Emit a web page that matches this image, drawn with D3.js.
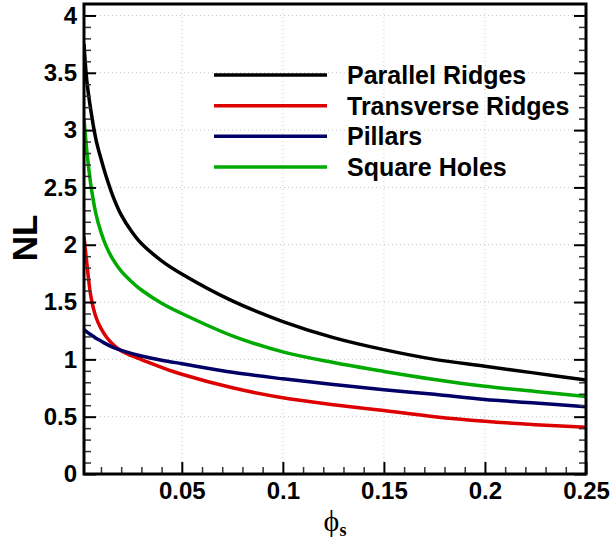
<!DOCTYPE html>
<html>
<head>
<meta charset="utf-8">
<script src="https://cdn.jsdelivr.net/npm/d3@7"></script>
<style>
  body { margin: 0; background: #fff; }
  svg { display: block; }
  text { font-family: "Liberation Sans", Arial, sans-serif; font-weight: bold; fill: #000; }
</style>
</head>
<body>
<div id="chart"></div>
<script>
// phi_s sample positions
const phiS = [0.0016, 0.003, 0.005, 0.0075, 0.01, 0.0125, 0.016, 0.02, 0.025, 0.03, 0.04, 0.05, 0.075, 0.1, 0.125, 0.15, 0.175, 0.2, 0.225, 0.25];

const parallelRidges   = [3.75, 3.43, 3.17, 2.92, 2.75, 2.60, 2.42, 2.26, 2.12, 2.01, 1.86, 1.745, 1.51, 1.33, 1.19, 1.085, 1.00, 0.94, 0.88, 0.82];
const transverseRidges = [2.07, 1.84, 1.55, 1.37, 1.27, 1.20, 1.13, 1.075, 1.032, 0.998, 0.93, 0.87, 0.752, 0.665, 0.605, 0.553, 0.50, 0.46, 0.43, 0.407];
const pillars          = [1.26, 1.24, 1.215, 1.185, 1.16, 1.135, 1.105, 1.078, 1.052, 1.03, 0.993, 0.962, 0.887, 0.83, 0.78, 0.735, 0.695, 0.65, 0.62, 0.587];
const squareHoles      = [3.10, 2.82, 2.52, 2.27, 2.11, 1.99, 1.87, 1.77, 1.68, 1.605, 1.49, 1.40, 1.205, 1.065, 0.972, 0.895, 0.825, 0.765, 0.72, 0.675];

const seriesNames = ['Parallel Ridges', 'Transverse Ridges', 'Pillars', 'Square Holes'];
const seriesValues = [parallelRidges, transverseRidges, pillars, squareHoles];
const seriesColors = ['#000000', '#dd0000', '#000066', '#00aa00'];

const xTicks = [0.05, 0.1, 0.15, 0.2, 0.25];
const yTicks = [0, 0.5, 1, 1.5, 2, 2.5, 3, 3.5, 4];

const width = 611, height = 546;
const margin = {top: 4, right: 25, bottom: 72, left: 84};

const svg = d3.select('#chart').append('svg')
  .attr('width', width)
  .attr('height', height);

const x = d3.scaleLinear()
  .domain([0.0016, 0.25])
  .range([margin.left, width - margin.right]);

const y = d3.scaleLinear()
  .domain([0, 4.1])
  .range([height - margin.bottom, margin.top]);

// dotted grid
const grid = svg.append('g').attr('class', 'grid');
grid.selectAll('.gx')
  .data(xTicks.slice(0, -1))
  .enter().append('line')
    .attr('x1', d => x(d)).attr('x2', d => x(d))
    .attr('y1', y.range()[0]).attr('y2', y.range()[1])
    .attr('stroke', '#c8c8c8').attr('stroke-width', 1).attr('stroke-dasharray', '1,3');
grid.selectAll('.gy')
  .data(yTicks.slice(1))
  .enter().append('line')
    .attr('x1', x.range()[0]).attr('x2', x.range()[1])
    .attr('y1', d => y(d)).attr('y2', d => y(d))
    .attr('stroke', '#c8c8c8').attr('stroke-width', 1).attr('stroke-dasharray', '1,3');

// curves
const line = d3.line()
  .x(d => x(d[0]))
  .y(d => y(d[1]))
  .curve(d3.curveCatmullRom.alpha(0.5));

svg.append('clipPath').attr('id', 'plotclip')
  .append('rect')
    .attr('x', x.range()[0]).attr('y', y.range()[1])
    .attr('width', x.range()[1] - x.range()[0])
    .attr('height', y.range()[0] - y.range()[1]);

svg.append('g').attr('clip-path', 'url(#plotclip)')
  .selectAll('path')
  .data(seriesValues)
  .enter().append('path')
    .attr('fill', 'none')
    .attr('stroke', (d, i) => seriesColors[i])
    .attr('stroke-width', 3.5)
    .attr('stroke-linejoin', 'round')
    .attr('d', d => line(d.map((v, i) => [phiS[i], v])));

// minor ticks
const minorX = d3.range(0.01, 0.25, 0.01).filter(v => Math.abs(v / 0.05 - Math.round(v / 0.05)) > 1e-6);
const minorY = d3.range(0.1, 4.1, 0.1).filter(v => Math.abs(v / 0.5 - Math.round(v / 0.5)) > 1e-6);

function styleAxis(g) {
  g.select('.domain').remove();
  g.selectAll('.tick line').attr('stroke', '#000').attr('stroke-width', 2);
}
function styleMinor(g) {
  styleAxis(g);
  g.selectAll('.tick line').attr('stroke', '#333').attr('stroke-width', 1.5);
}

svg.append('g')
  .attr('transform', 'translate(0,' + y.range()[0] + ')')
  .call(d3.axisBottom(x).tickValues(minorX).tickSize(-7).tickFormat(''))
  .call(styleMinor);

svg.append('g')
  .attr('transform', 'translate(' + x.range()[0] + ',0)')
  .call(d3.axisLeft(y).tickValues(minorY).tickSize(-7).tickFormat(''))
  .call(styleMinor);

svg.append('g')
  .attr('transform', 'translate(' + x.range()[1] + ',0)')
  .call(d3.axisRight(y).tickValues(minorY).tickSize(-7).tickFormat(''))
  .call(styleMinor);

// major ticks + labels
svg.append('g')
  .attr('transform', 'translate(0,' + y.range()[0] + ')')
  .call(d3.axisBottom(x).tickValues(xTicks).tickSize(-12).tickPadding(8).tickFormat(d3.format('')))
  .call(g => {
    styleAxis(g);
    g.selectAll('.tick text').style('font-size', '24px').attr('dy', '0.71em');
  });

svg.append('g')
  .attr('transform', 'translate(' + x.range()[0] + ',0)')
  .call(d3.axisLeft(y).tickValues(yTicks).tickSize(-12).tickPadding(7).tickFormat(d3.format('')))
  .call(g => {
    styleAxis(g);
    g.selectAll('.tick text').style('font-size', '24px');
  });

svg.append('g')
  .attr('transform', 'translate(' + x.range()[1] + ',0)')
  .call(d3.axisRight(y).tickValues(yTicks).tickSize(-12).tickFormat(''))
  .call(styleAxis);

// frame
svg.append('rect')
  .attr('x', x.range()[0]).attr('y', y.range()[1])
  .attr('width', x.range()[1] - x.range()[0])
  .attr('height', y.range()[0] - y.range()[1])
  .attr('fill', 'none').attr('stroke', '#000').attr('stroke-width', 3);

// axis titles
svg.append('text')
  .attr('transform', 'translate(37,238) rotate(-90)')
  .attr('text-anchor', 'middle')
  .style('font-size', '35px')
  .text('NL');

const xt = svg.append('text')
  .attr('x', (x.range()[0] + x.range()[1]) / 2)
  .attr('y', 531)
  .attr('text-anchor', 'middle');
xt.append('tspan')
  .style('font-family', '"Liberation Serif", "DejaVu Serif", serif')
  .style('font-weight', 'normal')
  .style('font-size', '30px')
  .text('\u03D5');
xt.append('tspan')
  .attr('dy', 5)
  .style('font-family', '"Liberation Serif", "DejaVu Serif", serif')
  .style('font-size', '18px')
  .text('s');

// legend
const legend = svg.append('g').attr('class', 'legend');
const legendY = d3.scalePoint().domain(seriesNames).range([75, 167]);
seriesNames.forEach((name, i) => {
  legend.append('line')
    .attr('x1', 214).attr('x2', 327)
    .attr('y1', legendY(name)).attr('y2', legendY(name))
    .attr('stroke', seriesColors[i]).attr('stroke-width', 3.5);
  legend.append('text')
    .attr('x', 347)
    .attr('y', legendY(name))
    .attr('dy', '0.36em')
    .style('font-size', '25px')
    .text(name);
});
</script>
</body>
</html>
